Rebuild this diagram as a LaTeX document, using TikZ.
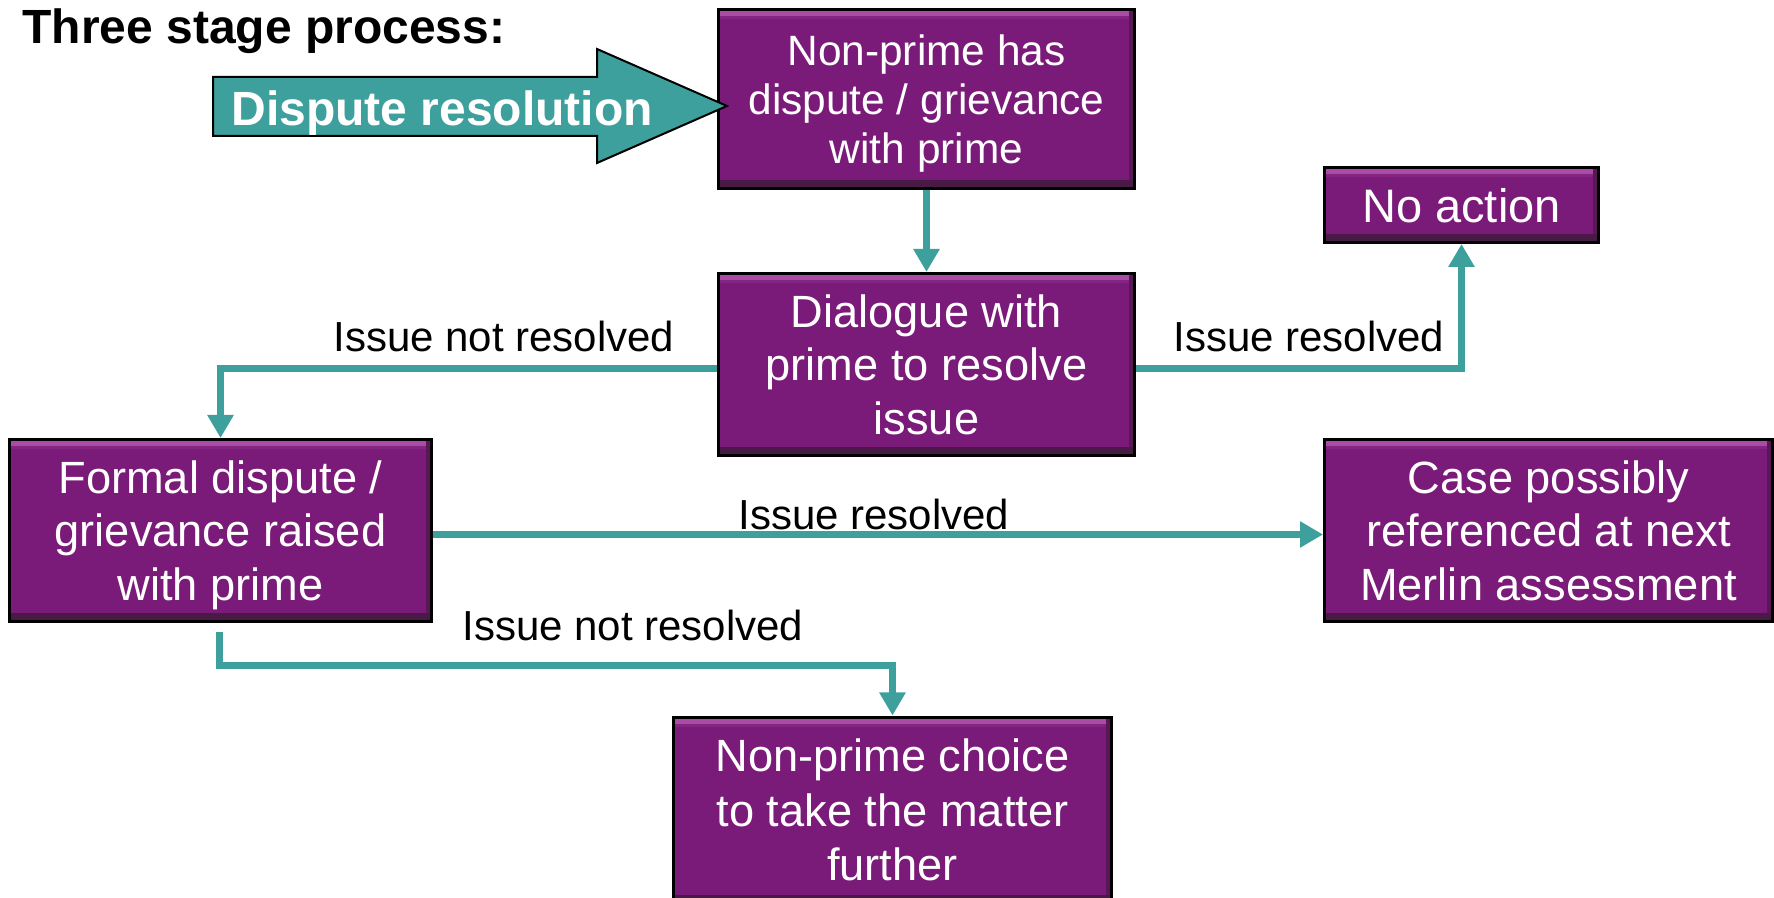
\documentclass[tikz,border=0pt]{standalone}
\usepackage{fontspec}
\setmainfont{Liberation Sans}
\usetikzlibrary{arrows.meta}
\definecolor{boxpurple}{HTML}{7B1B79}
\definecolor{bevlight}{HTML}{A84CA6}
\definecolor{bevdark}{HTML}{5A1657}
\definecolor{bevdarker}{HTML}{4A1A47}
\definecolor{myteal}{HTML}{3EA09C}
\begin{document}
\begin{tikzpicture}[x=0.5pt,y=-0.5pt,
  box/.style={draw=black, line width=1.5pt, fill=boxpurple, text=white, align=center,
    inner sep=0pt, text depth=0pt, font=\fontsize{22.6}{26.7}\selectfont,
    path picture={
      \fill[bevlight] ([shift={(0pt,-0.8pt)}]path picture bounding box.north west) rectangle ([shift={(0pt,-3.3pt)}]path picture bounding box.north east);
      \fill[boxpurple!80!bevlight] ([shift={(0pt,-3.3pt)}]path picture bounding box.north west) rectangle ([shift={(0pt,-5pt)}]path picture bounding box.north east);
      \fill[bevdark] ([shift={(-3pt,0pt)}]path picture bounding box.south east) rectangle ([shift={(-0.7pt,-0.5pt)}]path picture bounding box.north east);
      \fill[bevdarker] ([shift={(0pt,0.7pt)}]path picture bounding box.south west) rectangle ([shift={(0pt,4pt)}]path picture bounding box.south east);
    }},
  conn/.style={draw=myteal, line width=3.6pt, -{Triangle[width=12.5pt,length=11.5pt]}},
  lbl/.style={font=\fontsize{21}{25}\selectfont, inner sep=0pt, anchor=base west}
]
\useasboundingbox (0,0) rectangle (1774,898);

% title
\node[anchor=base west, inner sep=0pt, font=\fontsize{24}{28}\selectfont\bfseries] (title) at (22,44) {Three stage process:};

% boxes
\node[box, minimum width=208pt, minimum height=89.5pt, font=\fontsize{21.2}{24.5}\selectfont] (b1) at (926.5,99) {Non-prime has\\dispute / grievance\\with prime};
\node[box, minimum width=208pt, minimum height=91pt] (b2) at (926.5,364.5) {Dialogue with\\prime to resolve\\issue};
\node[box, minimum width=137pt, minimum height=37.5pt, font=\fontsize{23.5}{28}\selectfont] (noact) at (1461.5,205) {No action};
\node[box, minimum width=211pt, minimum height=91pt] (formal) at (220.5,530.5) {Formal dispute /\\grievance raised\\with prime};
\node[box, minimum width=224pt, minimum height=91pt] (case) at (1548.5,530.5) {Case possibly\\referenced at next\\Merlin assessment};
\node[box, minimum width=219pt, minimum height=93pt, font=\fontsize{22.6}{27.2}\selectfont] (choice) at (892.5,810) {Non-prime choice\\to take the matter\\further};

% big entry arrow
\filldraw[fill=myteal, draw=black, line width=1pt]
  (213,77) -- (597,77) -- (597,49) -- (727,106) -- (597,163) -- (597,136) -- (213,136) -- cycle;
\node[anchor=base west, inner sep=0pt, text=white, font=\fontsize{24}{28}\selectfont\bfseries] (dr) at (231,126) {Dispute resolution};

% connectors
\draw[conn] (b1.south) -- (b2.north);
\draw[conn] ([yshift=-2pt]b2.east) -| (noact.south);
\draw[conn] ([yshift=-2pt]b2.west) -| (formal.north);
\draw[conn] ([yshift=-2pt]formal.east) -- ([yshift=-2pt]case.west);
\draw[conn] ([xshift=-0.7pt,yshift=-4.5pt]formal.south) |- ([yshift=25pt]choice.north) -- (choice.north);

% labels
\node[lbl] (l1) at (333,352) {Issue not resolved};
\node[lbl] (l2) at (1173,352) {Issue resolved};
\node[lbl] (l3) at (738,530) {Issue resolved};
\node[lbl] (l4) at (462,640) {Issue not resolved};
\end{tikzpicture}
\end{document}
